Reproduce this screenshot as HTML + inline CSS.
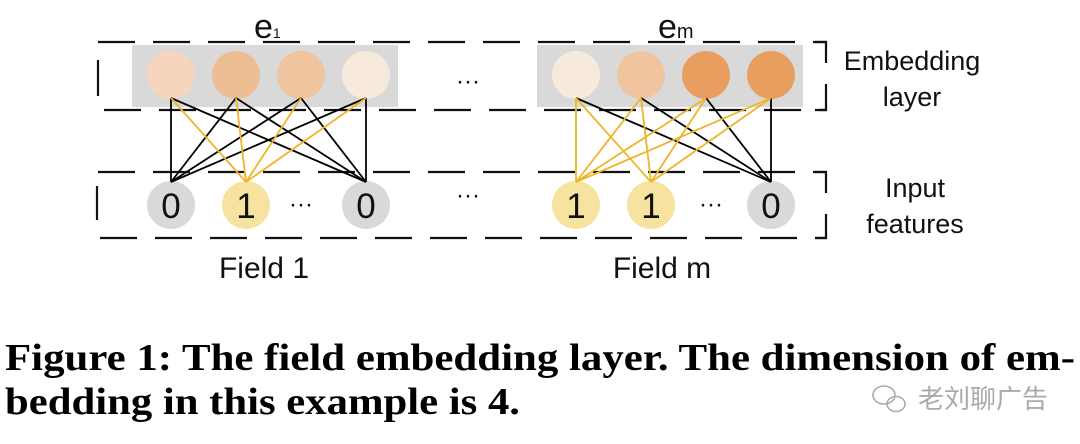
<!DOCTYPE html>
<html><head><meta charset="utf-8"><style>
html,body{margin:0;padding:0;background:#fff;width:1080px;height:444px;overflow:hidden}
</style></head><body>
<svg width="1080" height="444" viewBox="0 0 1080 444" xmlns="http://www.w3.org/2000/svg">
<g stroke="#111" stroke-width="2.2" fill="none" stroke-dasharray="37,18">
<line x1="98" y1="42" x2="826" y2="42"/>
<line x1="104" y1="110" x2="826" y2="110"/>
<line x1="98" y1="172" x2="826" y2="172"/>
<line x1="100" y1="238" x2="826" y2="238"/>
</g>
<g stroke="#111" stroke-width="2.2" fill="none">
<line x1="98" y1="60" x2="98" y2="96"/>
<line x1="97" y1="186" x2="97" y2="220"/>
<polyline points="815,42 826,42 826,63"/>
<polyline points="826,84 826,110 815,110"/>
<polyline points="815,172 826,172 826,193"/>
<polyline points="826,214 826,238 815,238"/>
</g>
<rect x="132" y="45" width="266" height="62" fill="#d9d9d9"/>
<rect x="537" y="45" width="266" height="62" fill="#d9d9d9"/>
<g>
<circle cx="171" cy="75" r="24" fill="#f6d5bc"/>
<circle cx="236" cy="75" r="24" fill="#edbd93"/>
<circle cx="301" cy="75" r="24" fill="#efc49f"/>
<circle cx="366" cy="75" r="24" fill="#f8e9dd"/>
<circle cx="576" cy="75" r="24" fill="#f8e9dd"/>
<circle cx="641" cy="75" r="24" fill="#efc49f"/>
<circle cx="706" cy="75" r="24" fill="#e89e5f"/>
<circle cx="771" cy="75" r="24" fill="#e89e5f"/>
<circle cx="171" cy="205" r="24" fill="#d9d9d9"/>
<circle cx="246" cy="205" r="24" fill="#f8e2a0"/>
<circle cx="366" cy="205" r="24" fill="#d9d9d9"/>
<circle cx="576" cy="205" r="24" fill="#f8e2a0"/>
<circle cx="651" cy="205" r="24" fill="#f8e2a0"/>
<circle cx="771" cy="205" r="24" fill="#d9d9d9"/>
</g>
<g stroke="#000" stroke-width="1.8">
<line x1="171" y1="98" x2="171" y2="182"/><line x1="171" y1="98" x2="366" y2="182"/>
<line x1="236" y1="98" x2="171" y2="182"/><line x1="236" y1="98" x2="366" y2="182"/>
<line x1="301" y1="98" x2="171" y2="182"/><line x1="301" y1="98" x2="366" y2="182"/>
<line x1="366" y1="98" x2="171" y2="182"/><line x1="366" y1="98" x2="366" y2="182"/>
<line x1="576" y1="98" x2="771" y2="182"/><line x1="641" y1="98" x2="771" y2="182"/>
<line x1="706" y1="98" x2="771" y2="182"/><line x1="771" y1="98" x2="771" y2="182"/>
</g>
<g stroke="#f0b429" stroke-width="1.8">
<line x1="171" y1="98" x2="246" y2="182"/><line x1="236" y1="98" x2="246" y2="182"/>
<line x1="301" y1="98" x2="246" y2="182"/><line x1="366" y1="98" x2="246" y2="182"/>
<line x1="576" y1="98" x2="576" y2="182"/><line x1="641" y1="98" x2="576" y2="182"/>
<line x1="706" y1="98" x2="576" y2="182"/><line x1="771" y1="98" x2="576" y2="182"/>
<line x1="576" y1="98" x2="651" y2="182"/><line x1="641" y1="98" x2="651" y2="182"/>
<line x1="706" y1="98" x2="651" y2="182"/><line x1="771" y1="98" x2="651" y2="182"/>
</g>
<g font-family="'Liberation Sans',sans-serif" fill="#111" text-anchor="middle">
<text x="171" y="218" font-size="35">0</text>
<text x="246" y="218" font-size="35">1</text>
<text x="366" y="218" font-size="35">0</text>
<text x="576" y="218" font-size="35">1</text>
<text x="651" y="218" font-size="35">1</text>
<text x="771" y="218" font-size="35">0</text>
<text x="301" y="212" font-size="24">···</text>
<text x="711" y="212" font-size="24">···</text>
<text x="468" y="89" font-size="24">···</text>
<text x="468" y="203" font-size="24">···</text>
<text x="264" y="278" font-size="30">Field 1</text>
<text x="662" y="278" font-size="30">Field m</text>
<text x="912" y="70" font-size="27">Embedding</text>
<text x="912" y="106" font-size="27">layer</text>
<text x="915" y="197" font-size="27">Input</text>
<text x="915" y="233" font-size="27">features</text>
</g>
<g font-family="'Liberation Sans',sans-serif" fill="#111">
<text x="254" y="38" font-size="34">e<tspan font-size="14">1</tspan></text>
<text x="658" y="38" font-size="34">e<tspan font-size="20">m</tspan></text>
</g>
<g font-family="'Liberation Serif',serif" font-weight="bold" fill="#000" font-size="38">
<text x="5" y="370" textLength="1070" lengthAdjust="spacingAndGlyphs">Figure 1: The field embedding layer. The dimension of em-</text>
<text x="5" y="414" textLength="515" lengthAdjust="spacingAndGlyphs">bedding in this example is 4.</text>
</g>
<g fill="none" stroke="#aaa" stroke-width="1.6">
<ellipse cx="884" cy="395" rx="11" ry="9"/>
<ellipse cx="896" cy="404" rx="9" ry="7.5"/>
</g>
<text x="918" y="408" font-family="'Liberation Sans','Noto Sans CJK SC',sans-serif" font-size="26" fill="#aaa">老刘聊广告</text>
</svg>
</body></html>
